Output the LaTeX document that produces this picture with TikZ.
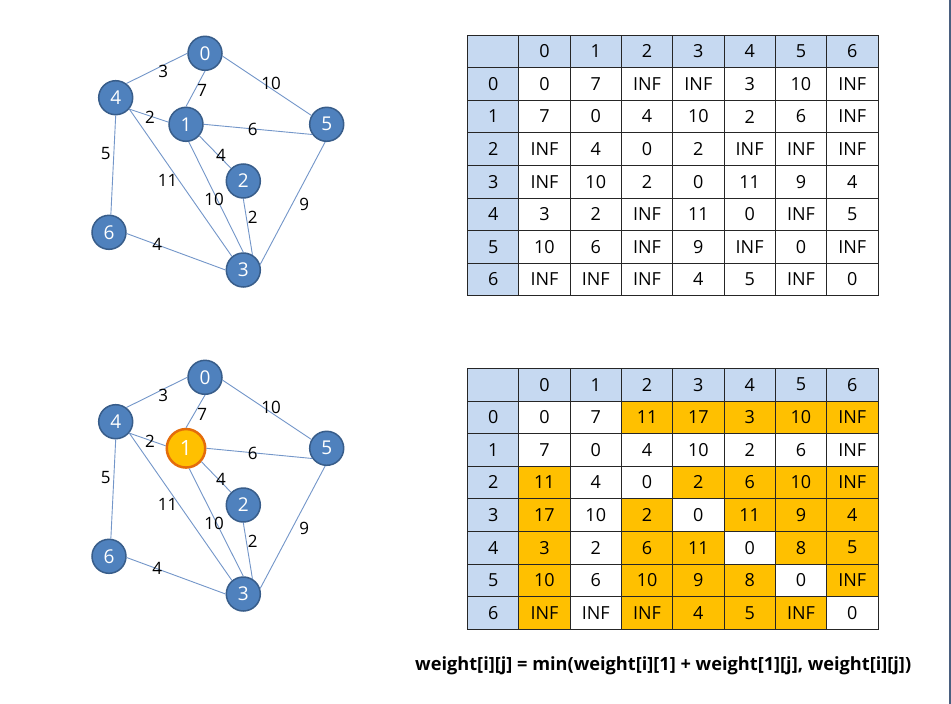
\documentclass[tikz,border=0pt]{standalone}
\usepackage{fontspec}
\setmainfont{Open Sans}
\definecolor{nodeblue}{HTML}{4F81BD}
\definecolor{nodeborder}{HTML}{385D8A}
\definecolor{edgeblue}{HTML}{7396C9}
\definecolor{hdrblue}{HTML}{C6D9F1}
\definecolor{hlorange}{HTML}{FFC000}
\definecolor{hlborder}{HTML}{E46C0A}
\definecolor{sideline}{HTML}{4A5F7F}
\tikzset{
  gnode/.style={circle, minimum size=34pt, inner sep=0pt, fill=nodeblue, draw=nodeborder, line width=1.5pt, text=white, font={\fontsize{19}{21}\selectfont}},
  hlnode/.style={circle, minimum size=38.5pt, inner sep=0pt, fill=hlorange, draw=hlborder, line width=2.5pt, text=white, font={\fontsize{21}{23}\selectfont}},
  gedge/.style={draw=edgeblue, line width=0.9pt},
  elab/.style={inner sep=0pt, font={\fontsize{17}{19}\selectfont}},
  cell/.style={draw=black!85, line width=0.8pt, minimum width=51.3pt, minimum height=32.6pt, inner sep=0pt, font={\fontsize{18}{20}\selectfont}},
}
\newcommand{\mygraph}[3]{%
  \foreach \n/\x/\y in {0/205/53.3, 4/115.7/97.7, 5/326.7/124.3, 2/243.3/181, 6/109/232.3, 3/243.3/270}
    \node[gnode] (#1\n) at (\x,\y+#2) {\n};
  \node[#3] (#11) at (186,124.3+#2) {1};
  \foreach \a/\sa/\b/\eb in {0/180/4/53, 0/270/1/90, 0/-9/5/150, 4/-40/1/173, 1/0/5/215, 1/-41/2/134, 4/270/6/84, 4/-40/3/130, 1/-81/3/90, 2/270/3/59, 5/265/3/18, 6/-4/3/180}
    \draw[gedge] (#1\a.\sa) -- (#1\b.\eb);
  \foreach \t/\x/\y [count=\k] in {3/163.3/71.7, 7/202.3/90, 10/271/83.3, 2/150/117.3, 6/252.7/129.3, 4/221/155, 5/105.7/153.3, 11/167.7/180, 10/214/199.3, 2/252.7/217.3, 9/304.3/204.3, 4/157.3/244.3}
    \node[elab] (#1l\k) at (\x,\y+#2) {\t};
}
\newcommand{\mytable}[3]{%
  \foreach \h [count=\c from 0] in {,0,1,2,3,4,5,6}
    \node[cell, fill=hdrblue] (#1h\c) at (467.5+25.65+\c*51.3, #2+16.3) {\h};
  \foreach \row [count=\r from 1] in {#3} {
    \node[cell, fill=hdrblue] (#1r\r c0) at (467.5+25.65, #2+16.3+\r*32.6) {\the\numexpr\r-1\relax};
    \foreach \v/\f [count=\c from 1] in \row
      \node[cell, fill=\f] (#1r\r c\c) at (467.5+25.65+\c*51.3, #2+16.3+\r*32.6) {\v};
  }
}
\begin{document}
\begin{tikzpicture}[x=1pt, y=-1pt]
\useasboundingbox[fill=white] (0,0) rectangle (951,704);
\mygraph{t}{0}{gnode}
\mygraph{b}{324}{hlnode}
\mytable{T}{35}{%
 {0/white,7/white,INF/white,INF/white,3/white,10/white,INF/white},
 {7/white,0/white,4/white,10/white,2/white,6/white,INF/white},
 {INF/white,4/white,0/white,2/white,INF/white,INF/white,INF/white},
 {INF/white,10/white,2/white,0/white,11/white,9/white,4/white},
 {3/white,2/white,INF/white,11/white,0/white,INF/white,5/white},
 {10/white,6/white,INF/white,9/white,INF/white,0/white,INF/white},
 {INF/white,INF/white,INF/white,4/white,5/white,INF/white,0/white}}
\mytable{B}{368.3}{%
 {0/white,7/white,11/hlorange,17/hlorange,3/hlorange,10/hlorange,INF/hlorange},
 {7/white,0/white,4/white,10/white,2/white,6/white,INF/white},
 {11/hlorange,4/white,0/white,2/hlorange,6/hlorange,10/hlorange,INF/hlorange},
 {17/hlorange,10/white,2/hlorange,0/white,11/hlorange,9/hlorange,4/hlorange},
 {3/hlorange,2/white,6/hlorange,11/hlorange,0/white,8/hlorange,5/hlorange},
 {10/hlorange,6/white,10/hlorange,9/hlorange,8/hlorange,0/white,INF/hlorange},
 {INF/hlorange,INF/white,INF/hlorange,4/hlorange,5/hlorange,INF/hlorange,0/white}}
\node[anchor=west, inner sep=0pt, font={\bfseries\fontsize{18.2}{20}\selectfont}] (formula) at (415,666)
  {weight[i][j] = min(weight[i][1] + weight[1][j], weight[i][j])};
\fill[sideline] (949.3,0) rectangle (951,704);
\end{tikzpicture}
\end{document}
